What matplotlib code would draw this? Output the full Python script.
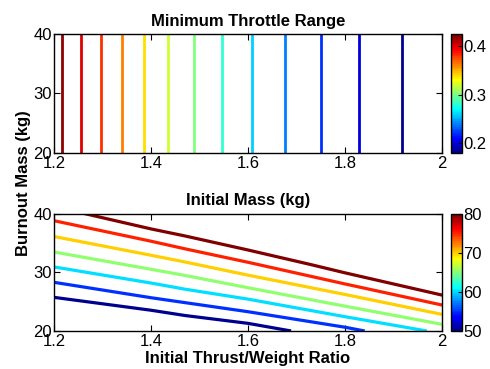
import numpy as np
import matplotlib
matplotlib.use('Agg')
from matplotlib import pyplot as plt
from matplotlib import colors, cm

plt.rcParams['font.family'] = ['Liberation Sans', 'DejaVu Sans']
plt.rcParams['font.size'] = 12

# top plot: minimum throttle range, contour lines are vertical (depend on T/W only)
throttle_levels = [0.42, 0.40, 0.38, 0.36, 0.34, 0.32, 0.30, 0.28, 0.26, 0.24, 0.22, 0.20, 0.18]
throttle_tw = [1.217, 1.256, 1.296, 1.340, 1.386, 1.436, 1.489, 1.547, 1.609, 1.677, 1.750, 1.830, 1.918]
throttle_lim = (0.181, 0.424)

# bottom plot: initial mass contours
mass_levels = [50, 55, 60, 65, 70, 75, 80]
mass_tw = [
    [1.2, 1.4, 1.47, 1.6, 1.686],
    [1.2, 1.4, 1.47, 1.6, 1.8, 1.838],
    [1.2, 1.4, 1.47, 1.6, 1.8, 1.966],
    [1.2, 1.4, 1.47, 1.6, 1.8, 2.0],
    [1.2, 1.4, 1.47, 1.6, 1.8, 2.0],
    [1.2, 1.4, 1.47, 1.6, 1.8, 2.0],
    [1.264, 1.4, 1.47, 1.6, 1.73, 1.8, 2.0],
]
mass_burnout = [
    [25.7, 23.5, 22.6, 21.26, 20.0],
    [28.27, 25.64, 24.8, 23.25, 20.6, 20.0],
    [30.9, 28.15, 27.1, 25.4, 22.4, 20.0],
    [33.45, 30.5, 29.45, 27.35, 24.2, 21.1],
    [36.1, 32.9, 31.75, 29.5, 26.2, 22.8],
    [38.8, 35.3, 34.0, 31.7, 28.0, 24.4],
    [40.0, 37.4, 36.2, 33.8, 31.3, 29.9, 26.1],
]
mass_lim = (50, 80)

xticks = [1.2, 1.4, 1.6, 1.8, 2]
xticklabels = ['1.2', '1.4', '1.6', '1.8', '2']
yticks = [20, 30, 40]


def matlab_jet(m=64):
    # same ramps as matlab's jet(m)
    n = int(np.ceil(m / 4))
    u = np.concatenate([np.arange(1, n + 1) / n, np.ones(n - 1), np.arange(n, 0, -1) / n])
    g = int(np.ceil(n / 2)) - (m % 4 == 1) + np.arange(1, len(u) + 1)
    r = g + n
    b = g - n
    J = np.zeros((m, 3))
    for col, idx in ((0, r), (1, g), (2, b)):
        ok = (idx >= 1) & (idx <= m)
        J[idx[ok] - 1, col] = u[ok]
    return colors.ListedColormap(J)


cmap = matlab_jet(64)

fig = plt.figure(figsize=(4.9, 3.69), dpi=100)
ax1 = fig.add_axes([0.1102, 0.5862, 0.7912, 0.3209])
cax1 = fig.add_axes([0.9198, 0.5862, 0.0224, 0.3209])
ax2 = fig.add_axes([0.1102, 0.1038, 0.7912, 0.3171])
cax2 = fig.add_axes([0.9198, 0.1038, 0.0224, 0.3171])


def style_axes(ax):
    ax.set_xlim(1.2, 2)
    ax.set_ylim(20, 40)
    ax.set_xticks(xticks)
    ax.set_xticklabels(xticklabels)
    ax.set_yticks(yticks)
    ax.tick_params(direction='in', length=4, width=0.8, top=True, right=True)
    ax.tick_params(axis='x', pad=2.5)
    ax.tick_params(axis='y', pad=1.5)
    for s in ax.spines.values():
        s.set_linewidth(1.0)


def style_cbar(cb):
    cb.outline.set_linewidth(1.0)
    cb.ax.tick_params(direction='in', length=3, width=0.8, pad=1)


# top
norm1 = colors.Normalize(*throttle_lim)
ax1.vlines(throttle_tw, 20, 40, colors=[cmap(norm1(v)) for v in throttle_levels], lw=2.0)
style_axes(ax1)
ax1.set_title('Minimum Throttle Range', fontsize=12, fontweight='bold', pad=6)
cb1 = fig.colorbar(cm.ScalarMappable(norm=norm1, cmap=cmap), cax=cax1, ticks=[0.2, 0.3, 0.4])
cb1.ax.set_yticklabels(['0.2', '0.3', '0.4'])
style_cbar(cb1)

# bottom
norm2 = colors.Normalize(*mass_lim)
for lev, xs, ys in zip(mass_levels, mass_tw, mass_burnout):
    ax2.plot(xs, ys, color=cmap(norm2(lev)), lw=2.3)
style_axes(ax2)
ax2.set_title('Initial Mass (kg)', fontsize=12, fontweight='bold', pad=6)
ax2.set_xlabel('Initial Thrust/Weight Ratio', fontsize=12, fontweight='bold', labelpad=1)
cb2 = fig.colorbar(cm.ScalarMappable(norm=norm2, cmap=cmap), cax=cax2, ticks=[50, 60, 70, 80])
style_cbar(cb2)

fig.text(0.047, 0.505, 'Burnout Mass (kg)', rotation=90, fontsize=12, fontweight='bold',
         ha='center', va='center')

fig.savefig('out.png', dpi=100)
